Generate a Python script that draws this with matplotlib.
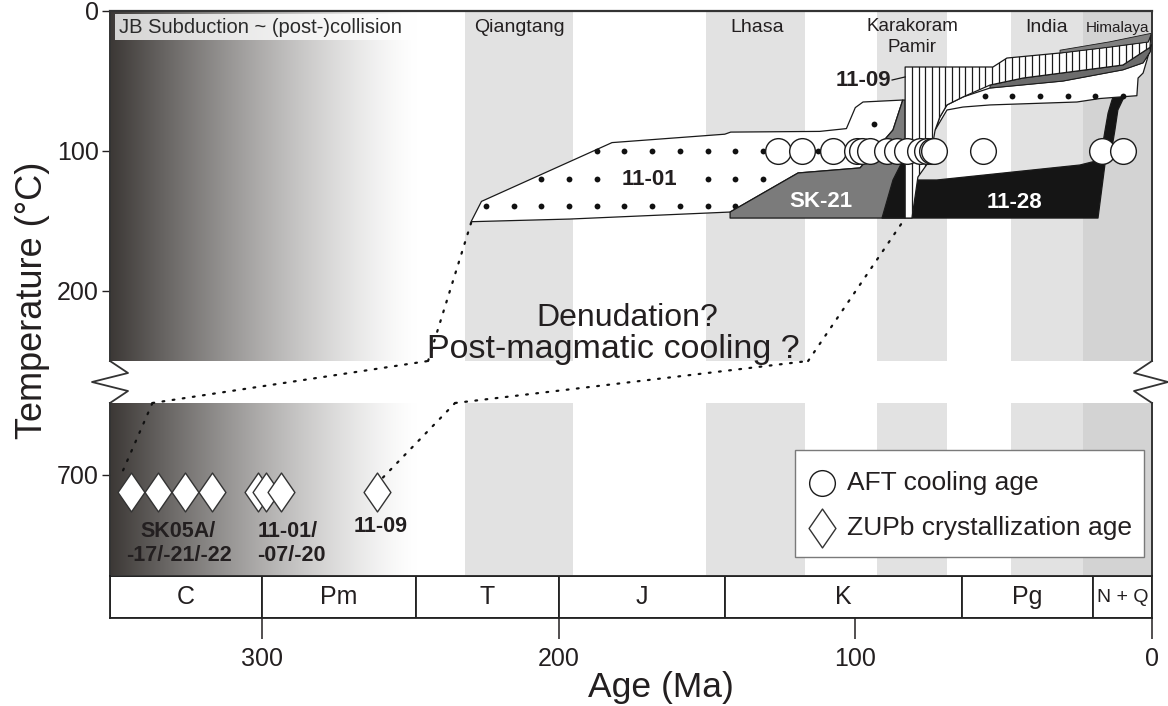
import numpy as np
import matplotlib
matplotlib.use("Agg")
import matplotlib.pyplot as plt
from matplotlib.patches import Polygon, Rectangle, ConnectionPatch
from matplotlib.path import Path
from matplotlib.lines import Line2D

# ---------------- data ----------------
AGE_LIM = (351.2, 0.0)
TEMP_LIM_UPPER = (250.0, 0.0)
TEMP_LIM_LOWER = (770.0, 650.0)

terranes = ["Qiangtang", "Lhasa", "Karakoram\nPamir", "India", "Himalaya"]
terrane_old = [231.5, 150.3, 92.7, 47.5, 23.3]
terrane_young = [195.1, 117.0, 69.1, 23.3, 0.0]
terrane_label_age = [213.2, 133.1, 80.9, 35.4, 11.5]
terrane_label_temp = [12.0, 12.0, 18.5, 12.0, 12.0]
terrane_label_size = [14, 14, 13.5, 14, 11]

periods = ["C", "Pm", "T", "J", "K", "Pg", "N + Q"]
period_bounds = [351.2, 300.0, 248.0, 200.0, 144.0, 64.0, 20.0, 0.0]
period_size = [18, 18, 18, 18, 18, 18, 14]

setting_label = "JB Subduction ~ (post-)collision"
setting_old, setting_young = 351.2, 248.0

aft_age = [126.1, 118.0, 107.5, 99.4, 97.7, 95.0, 89.3, 85.9, 82.5,
           78.2, 75.8, 74.1, 73.5, 57.0, 16.9, 9.8]
aft_temp = [100, 100, 100, 100, 100, 100, 100, 100, 100,
            100, 100, 100, 100, 100, 100, 100]

zupb_age = [344.1, 335.0, 325.9, 316.8, 301.3, 298.6, 293.6, 261.2]
zupb_temp = [712, 712, 712, 712, 712, 712, 712, 712]

# t-T envelopes (age Ma, temperature degC)
env_1101 = [(229.5, 150.5), (226.0, 136.0), (182.0, 94.0), (144.0, 88.0),
            (142.0, 86.5), (112.0, 86.0), (103.0, 84.0), (100.0, 69.0),
            (97.4, 65.0), (84.0, 63.6), (87.3, 85.0), (98.4, 112.1),
            (119.3, 115.7), (142.2, 143.6), (196.2, 148.6)]
env_sk21 = [(142.2, 147.9), (142.2, 143.6), (119.3, 115.7), (98.4, 112.1),
            (87.3, 85.0), (84.0, 63.6), (83.2, 63.6), (83.2, 147.9)]
env_1128 = [(91.0, 147.9), (87.3, 120.7), (83.9, 106.4), (80.9, 121.0),
            (78.9, 120.7), (72.5, 120.7), (24.3, 110.0), (17.5, 106.4),
            (15.8, 85.0), (14.8, 72.9), (13.5, 63.6), (12.8, 60.0),
            (9.1, 60.0), (11.5, 70.7), (12.5, 85.0), (13.5, 97.9),
            (15.8, 108.6), (18.2, 147.9)]
env_1109 = [(83.2, 40.0), (53.6, 40.0), (48.9, 33.6), (31.0, 30.0),
            (14.2, 25.7), (1.3, 22.1), (0.4, 17.1), (0.7, 26.0),
            (9.8, 38.6), (43.5, 47.9), (54.6, 52.9), (63.7, 61.4),
            (69.1, 67.1), (71.5, 75.7), (73.1, 85.0), (74.8, 106.4),
            (78.9, 118.6), (80.9, 147.9), (83.2, 147.9)]
env_1109_under = [(54.6, 52.9), (43.5, 47.9), (9.8, 38.6), (0.7, 26.0),
                  (0.6, 29.0), (3.0, 37.0), (9.8, 42.0), (30.0, 50.0),
                  (54.6, 55.0)]
env_1109_over = [(31.0, 28.0), (14.2, 22.0), (0.4, 16.0), (0.4, 17.1),
                 (1.3, 22.1), (14.2, 25.7), (31.0, 30.0)]
env_young = [(73.1, 85.0), (71.5, 75.7), (69.1, 67.1), (63.7, 61.4),
             (54.6, 55.0), (30.0, 50.0), (9.8, 42.0), (3.0, 37.0),
             (0.6, 29.0), (0.3, 24.0), (1.7, 35.0), (3.0, 44.3),
             (4.7, 47.9), (5.1, 60.5), (17.5, 62.5), (25.3, 65.0),
             (54.6, 67.1), (63.7, 68.6), (69.1, 70.7)]

# dotted links between ZUPb and AFT constraints
link_1101_lower = [(346.8, 697.0), (336.9, 650.0)]
link_1101_upper = [(244.0, 250.0), (229.2, 149.3)]
link_1109_lower = [(259.2, 702.0), (234.9, 650.0)]
link_1109_upper = [(115.9, 250.0), (83.2, 148.0)]

# ---------------- style ----------------
plt.rcParams["font.family"] = ["Liberation Sans", "DejaVu Sans"]
TXT = "#231f20"
EDGE = "#1a1a1a"
DOT_STEP_AGE, DOT_STEP_T = 9.336, 19.64
DOT_AGE0, DOT_T0 = 224.5, 139.3
HATCH_STEP = 2.25
LABEL_1101 = (169.4, 120.7)

W, H = 1168.0, 706.0
fig = plt.figure(figsize=(W / 100, H / 100), dpi=100)


def fr(l, t, r, b):
    return [l / W, 1 - b / H, (r - l) / W, (b - t) / H]


ax_top = fig.add_axes(fr(110, 11, 1152, 361))
ax_bot = fig.add_axes(fr(110, 403, 1152, 575))
ax_bar = fig.add_axes(fr(110, 576, 1152, 618))

# gradient + terrane bands
t = np.linspace(0, 1, 400)
dark = np.array([0.235, 0.22, 0.21])
ramp = 1 - (1 - dark)[None, :] * ((1 - t) ** 1.3)[:, None]
img = ramp[None, :, :]
for ax, tl in ((ax_top, TEMP_LIM_UPPER), (ax_bot, TEMP_LIM_LOWER)):
    ax.imshow(img, extent=[setting_old, setting_young, tl[0], tl[1]],
              aspect="auto", zorder=0, interpolation="bilinear")
    for o, yg, name in zip(terrane_old, terrane_young, terranes):
        ax.axvspan(o, yg, color="#d3d3d3" if name == "Himalaya" else "#e2e2e2",
                   lw=0, zorder=0.5)
    ax.set_xlim(*AGE_LIM)
    ax.set_ylim(*tl)
    ax.set_xticks([])
    for s in ("left", "right"):
        ax.spines[s].set_linewidth(1.4)
        ax.spines[s].set_color("#333333")
    ax.spines["bottom"].set_visible(False)
    ax.tick_params(axis="y", direction="out", length=6, width=1,
                   labelsize=18, colors=TXT, pad=2)
ax_top.spines["top"].set_linewidth(1.6)
ax_top.spines["top"].set_color("#333333")
ax_bot.spines["top"].set_visible(False)
ax_top.set_yticks([0, 100, 200])
ax_bot.set_yticks([700])

# setting label box
ax_top.add_patch(Rectangle((349.5, 2.1), 249.0 - 349.5, 18.6, facecolor="white",
                           alpha=0.78, lw=0, zorder=1))
ax_top.text(348.3, 11.5, setting_label, ha="left", va="center",
            fontsize=14.5, color="#2a2a2a", zorder=2)

for name, a, tt, fs in zip(terranes, terrane_label_age, terrane_label_temp,
                           terrane_label_size):
    ax_top.text(a, tt, name, ha="center", va="center", fontsize=fs,
                color=TXT, zorder=12, linespacing=1.3)

# envelopes
def poly(ax, pts, fc, z, lw=0.9, ec=EDGE):
    p = Polygon(pts, closed=True, facecolor=fc, edgecolor=ec, lw=lw,
                zorder=z, joinstyle="round")
    ax.add_patch(p)
    return p


def dots_in(ax, pts, z, keep_clear=None):
    ga = DOT_AGE0 - DOT_STEP_AGE * np.arange(0, 25)
    gt = DOT_T0 - DOT_STEP_T * np.arange(0, 6)
    A, T = np.meshgrid(ga, gt)
    grid = np.column_stack([A.ravel(), T.ravel()])
    inside = Path(pts).contains_points(grid)
    if keep_clear is not None:
        ca, ct = keep_clear
        inside &= ~((np.abs(grid[:, 0] - ca) < 14) & (np.abs(grid[:, 1] - ct) < 8))
    ax.plot(grid[inside, 0], grid[inside, 1], "o", ms=4.2, color="#111111",
            mew=0, zorder=z)


poly(ax_top, env_1101, "white", 2)
dots_in(ax_top, env_1101, 2.5, keep_clear=LABEL_1101)
poly(ax_top, env_sk21, "#7b7b7b", 3)
poly(ax_top, env_1128, "#151515", 3.5)
poly(ax_top, env_young, "white", 4)
dots_in(ax_top, env_young, 4.2)
poly(ax_top, env_1109_under, "#6c6c6c", 4.5, lw=0.7)
hp = poly(ax_top, env_1109, "white", 5)
vl = ax_top.vlines(np.arange(80.9, 0, -HATCH_STEP), 0, 250, color=EDGE,
                   lw=0.9, zorder=5.2)
vl.set_clip_path(hp)
poly(ax_top, env_1109_over, "#808080", 5.4, lw=0.6)

# AFT circles
ax_top.plot(aft_age, aft_temp, "o", ms=18.5, mfc="white", mec=EDGE, mew=1.0,
            ls="none", zorder=10)

# sample labels (upper)
ax_top.text(*LABEL_1101, "11-01", fontsize=16, fontweight="bold", color=TXT,
            ha="center", va="center", zorder=11)
ax_top.text(111.6, 136.4, "SK-21", fontsize=16, fontweight="bold", color="white",
            ha="center", va="center", zorder=11)
ax_top.text(46.2, 137.0, "11-28", fontsize=16, fontweight="bold", color="white",
            ha="center", va="center", zorder=11)
ax_top.text(97.4, 49.3, "11-09", fontsize=16, fontweight="bold", color=TXT,
            ha="center", va="center", zorder=11)
ax_top.plot([87.6, 83.2], [49.3, 47.1], color=EDGE, lw=0.9, zorder=11)

ax_top.text(177.0, 219.3, "Denudation?", fontsize=23, color=TXT,
            ha="center", va="center", zorder=11)
ax_top.text(181.6, 242.1, "Post-magmatic cooling ?", fontsize=24.5, color=TXT,
            ha="center", va="center", zorder=11)

# ZUPb diamonds
diamond = Path([(0, 1), (0.69, 0), (0, -1), (-0.69, 0), (0, 1)],
               [Path.MOVETO, Path.LINETO, Path.LINETO, Path.LINETO, Path.CLOSEPOLY])
ax_bot.plot(zupb_age, zupb_temp, ls="none", marker=diamond, ms=28,
            mfc="white", mec="#333333", mew=1.0, zorder=10)
ax_bot.text(328.1, 748, "SK05A/\n-17/-21/-22", fontsize=15.5, fontweight="bold",
            color=TXT, ha="center", va="center", multialignment="center",
            linespacing=1.15, zorder=11)
ax_bot.text(301.6, 748, "11-01/\n-07/-20", fontsize=15.5, fontweight="bold",
            color=TXT, ha="left", va="center", multialignment="left",
            linespacing=1.15, zorder=11)
ax_bot.text(259.9, 736.5, "11-09", fontsize=15.5, fontweight="bold",
            color=TXT, ha="center", va="center", zorder=11)

# dotted links
DOT_LS = (0, (0.8, 3.8))
for lower, upper in ((link_1101_lower, link_1101_upper),
                     (link_1109_lower, link_1109_upper)):
    ax_bot.plot([p[0] for p in lower], [p[1] for p in lower], zorder=9,
                clip_on=False, color="#111111", lw=1.6, linestyle=DOT_LS,
                dash_capstyle="round")
    ax_top.plot([p[0] for p in upper], [p[1] for p in upper], zorder=1.5,
                clip_on=False, color="#111111", lw=1.6, linestyle=DOT_LS,
                dash_capstyle="round")
    cp = ConnectionPatch(xyA=lower[-1], coordsA=ax_bot.transData,
                         xyB=upper[0], coordsB=ax_top.transData,
                         arrowstyle="-", color="#111111", lw=1.6,
                         linestyle=DOT_LS, capstyle="round")
    fig.add_artist(cp)

# legend (manual box)
ax_bot.add_patch(Rectangle((0.657, 0.105), 0.335, 0.622, transform=ax_bot.transAxes,
                           facecolor="white", edgecolor="#7a7a7a", lw=1.0, zorder=12))
ax_bot.plot([0.683], [0.535], "o", ms=18.5, mfc="white", mec=EDGE, mew=1.0,
            transform=ax_bot.transAxes, zorder=13)
ax_bot.plot([0.683], [0.273], ls="none", marker=diamond, ms=28, mfc="white",
            mec="#333333", mew=1.0, transform=ax_bot.transAxes, zorder=13)
ax_bot.text(0.707, 0.535, "AFT cooling age", transform=ax_bot.transAxes,
            fontsize=19, color=TXT, ha="left", va="center", zorder=13)
ax_bot.text(0.707, 0.273, "ZUPb crystallization age", transform=ax_bot.transAxes,
            fontsize=19, color=TXT, ha="left", va="center", zorder=13)

# time scale bar
ax_bar.set_xlim(*AGE_LIM)
ax_bar.set_ylim(0, 1)
ax_bar.set_yticks([])
for i, name in enumerate(periods):
    o, yg = period_bounds[i], period_bounds[i + 1]
    ax_bar.add_patch(Rectangle((o, 0), yg - o, 1, facecolor="white",
                               edgecolor="#222222", lw=1.3))
    ax_bar.text((o + yg) / 2, 0.5, name, ha="center", va="center",
                fontsize=period_size[i], color=TXT)
for s in ax_bar.spines.values():
    s.set_linewidth(1.3)
    s.set_color("#222222")
ax_bar.set_xticks([300, 200, 100, 0])
ax_bar.tick_params(axis="x", direction="out", length=15, width=1.1,
                   labelsize=18, colors=TXT, pad=6)

# axis titles
fig.text(33 / W, 1 - 300 / H, "Temperature (°C)", rotation=90, ha="center",
         va="center", fontsize=26, color=TXT)
fig.text(661 / W, 1 - 687 / H, "Age (Ma)", ha="center", va="center",
         fontsize=25.5, color=TXT)

# axis break marks
for xs in ([110, 128, 92, 128, 110], [1152, 1134, 1168, 1134, 1152]):
    ys = [361, 373, 382, 391, 403]
    fig.add_artist(Line2D([x / W for x in xs], [1 - y / H for y in ys],
                          transform=fig.transFigure, color="#333333", lw=1.3))

fig.savefig("out.png", dpi=100, facecolor="white")
